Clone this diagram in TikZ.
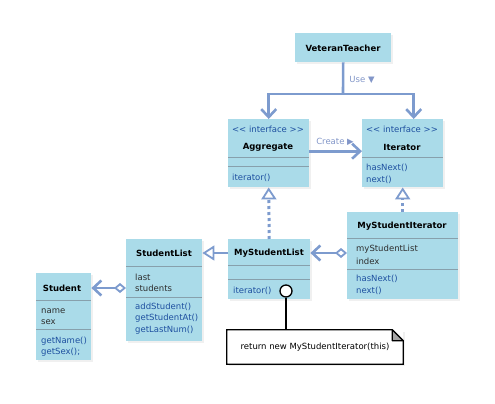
\documentclass[tikz,border=0pt]{standalone}
\usepackage{fontspec}
\setmainfont{DejaVu Sans}
\usetikzlibrary{arrows.meta,shadows}

\definecolor{boxfill}{RGB}{170,219,233}
\definecolor{linecol}{RGB}{125,155,206}
\definecolor{methcol}{RGB}{30,80,160}
\definecolor{attrcol}{RGB}{45,45,45}
\definecolor{sepcol}{RGB}{135,160,172}
\definecolor{labcol}{RGB}{130,150,200}

\tikzset{
  classbox/.style={fill=boxfill, anchor=north west, inner sep=0pt,
    drop shadow={opacity=0.12, shadow xshift=1.5pt, shadow yshift=-1.5pt}},
  title/.style={font=\fontsize{8.5}{10}\selectfont\bfseries, inner sep=0pt},
  stereo/.style={font=\fontsize{8.5}{10}\selectfont, text=methcol, inner sep=0pt},
  attr/.style={font=\fontsize{8.5}{10}\selectfont, text=attrcol, anchor=west, inner sep=0pt},
  meth/.style={attr, text=methcol},
  sep/.style={draw=sepcol, line width=0.9pt},
  link/.style={draw=linecol, line width=2.6pt},
  open head/.style={-{Straight Barb[length=8pt, width=15pt, line width=2.6pt]}},
  realize/.style={draw=linecol, line width=3pt, dash pattern=on 3pt off 3pt,
    -{Triangle[open, fill=white, length=12pt, width=15pt, line width=1.8pt]}},
  inherit/.style={link, -{Triangle[open, fill=white, length=12pt, width=15pt, line width=1.8pt]}},
  aggreg/.style={link, {Diamond[open, fill=white, length=12pt, width=10pt, line width=1.8pt]}-{Straight Barb[length=8pt, width=15pt, line width=2.6pt]}},
  lab/.style={font=\fontsize{8.5}{10}\selectfont, text=labcol, inner sep=0pt}
}

\begin{document}
\begin{tikzpicture}[x=1pt, y=-1pt]
    \useasboundingbox (0,0) rectangle (495,404);

    % class boxes
    \node[classbox, minimum width=96, minimum height=29] (vt) at (295,33) {};
    \node[classbox, minimum width=81, minimum height=68] (agg) at (228,119) {};
    \node[classbox, minimum width=81, minimum height=68] (itr) at (362,119) {};
    \node[classbox, minimum width=111, minimum height=87] (msit) at (347,212) {};
    \node[classbox, minimum width=82, minimum height=60] (msl) at (228,239) {};
    \node[classbox, minimum width=76, minimum height=102] (sl) at (126,239) {};
    \node[classbox, minimum width=55, minimum height=87] (stu) at (36,273) {};

    % VeteranTeacher
    \node[title] (vtt) at (343,48) {VeteranTeacher};

    % Aggregate
    \node[stereo] (aggs) at (268,129) {<{}< interface >{}>};
    \node[title] (aggt) at (268,147) {Aggregate};
    \draw[sep] (228,157) -- (309,157);
    \draw[sep] (228,166) -- (309,166);
    \node[meth] (aggm) at (232,178) {iterator()};

    % Iterator
    \node[stereo] (itrs) at (402,129) {<{}< interface >{}>};
    \node[title] (itrt) at (402,147) {Iterator};
    \draw[sep] (362,157) -- (443,157);
    \node[meth] (itrm1) at (366,168) {hasNext()};
    \node[meth] (itrm2) at (366,180) {next()};

    % MyStudentIterator
    \node[title] (msitt) at (402,226) {MyStudentIterator};
    \draw[sep] (347,238) -- (458,238);
    \node[attr] (msita1) at (356,249) {myStudentList};
    \node[attr] (msita2) at (356,261) {index};
    \draw[sep] (347,269) -- (458,269);
    \node[meth] (msitm1) at (356,279) {hasNext()};
    \node[meth] (msitm2) at (356,291) {next()};

    % MyStudentList
    \node[title] (mslt) at (269,253) {MyStudentList};
    \draw[sep] (228,265) -- (310,265);
    \draw[sep] (228,279) -- (310,279);
    \node[meth] (mslm) at (233,291) {iterator()};

    % StudentList
    \node[title] (slt) at (164,253) {StudentList};
    \draw[sep] (126,266) -- (202,266);
    \node[attr] (sla1) at (135,277) {last};
    \node[attr] (sla2) at (135,288) {students};
    \draw[sep] (126,297) -- (202,297);
    \node[meth] (slm1) at (135,307) {addStudent()};
    \node[meth] (slm2) at (135,318) {getStudentAt()};
    \node[meth] (slm3) at (135,330) {getLastNum()};

    % Student
    \node[title] (stut) at (62,288) {Student};
    \draw[sep] (36,300) -- (91,300);
    \node[attr] (stua1) at (41,311) {name};
    \node[attr] (stua2) at (41,322) {sex};
    \draw[sep] (36,329) -- (91,329);
    \node[meth] (stum1) at (41,341) {getName()};
    \node[meth] (stum2) at (41,352) {getSex();};

    % Use
    \coordinate (fork) at (343,94);
    \draw[link] (vt.south) -- (fork);
    \draw[link, open head] (fork) -| (agg.north);
    \draw[link, open head] (fork) -| ([xshift=11pt]itr.north);
    \node[lab] (use) at (362,80) {Use ▼};

    % Create
    \draw[link, open head] ([yshift=2pt]agg.east) -- ([yshift=2pt]itr.west);
    \node[lab] (create) at (335,142) {Create ▶};

    % realizations
    \draw[realize] (msl.north) -- (agg.south);
    \draw[realize] (msit.north) -- (itr.south);

    % generalization and aggregations
    \draw[inherit] (msl.west |- mslt) -- (sl.east |- mslt);
    \draw[aggreg] (msit.west |- mslt) -- (msl.east |- mslt);
    \draw[aggreg] (sl.west |- stut) -- (stu.east |- stut);

    % note
    \node[fill=white, minimum width=176, minimum height=34, inner sep=0pt,
      drop shadow={opacity=0.12, shadow xshift=1.5pt, shadow yshift=-1.5pt},
      font=\fontsize{8.5}{10}\selectfont] (note) at (315,347) {return new MyStudentIterator(this)};
    \draw[line width=1.2pt] (note.north west) -- ([xshift=-11pt]note.north east)
      -- ([yshift=-11pt]note.north east) -- (note.south east) -- (note.south west) -- cycle;
    \filldraw[fill=gray!70, line width=1.2pt, line join=round] ([xshift=-11pt]note.north east)
      -- ([yshift=-11pt]note.north east) -- ([xshift=-11pt, yshift=-11pt]note.north east) -- cycle;

    % lollipop
    \node[circle, draw=black, fill=white, line width=1.3pt, minimum size=12pt, inner sep=0pt] (lolly) at (286,291) {};
    \draw[line width=1.3pt] (lolly.south) -- (lolly.south |- note.north);
\end{tikzpicture}
\end{document}
